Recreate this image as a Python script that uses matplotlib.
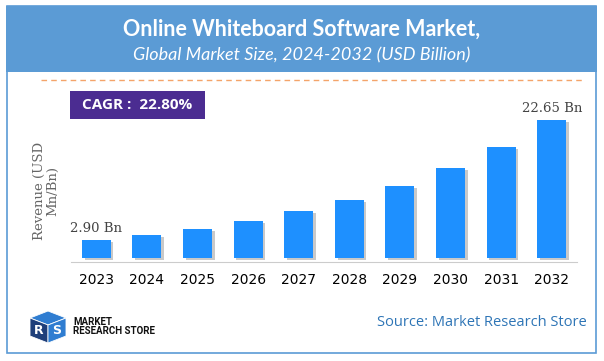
import matplotlib
matplotlib.use("Agg")
import matplotlib.pyplot as plt
import matplotlib.patheffects as pe
from matplotlib.patches import Rectangle, Polygon
import numpy as np

# data
years = ["2023", "2024", "2025", "2026", "2027", "2028", "2029", "2030", "2031", "2032"]
revenue = [2.90, 3.72, 4.71, 6.02, 7.66, 9.52, 11.8, 14.8, 18.3, 22.65]
label_first = "2.90 Bn"
label_last = "22.65 Bn"
cagr_text = "CAGR :  22.80%"
title = "Online Whiteboard Software Market,"
subtitle = "Global Market Size, 2024-2032 (USD Billion)"
source = "Source: Market Research Store"

W, H = 604, 361


def fx(x):
    return x / W


def fy(y):
    return 1 - y / H


fig = plt.figure(figsize=(W / 100, H / 100), dpi=100)
fig.patch.set_facecolor("white")

# outer frame and header band
frame_col = "#5B9BD5"
fig.patches.append(Rectangle((fx(6.5), fy(352.5)), fx(595.5) - fx(6.5), fy(6) - fy(352.5),
                             transform=fig.transFigure, fill=False, ec=frame_col, lw=1.2))
fig.patches.append(Rectangle((fx(6), fy(72)), fx(597) - fx(6), fy(6) - fy(72),
                             transform=fig.transFigure, fc=frame_col, ec="none"))
fig.text(0.5, fy(29), title, color="white", fontsize=15.5, fontweight="bold",
         family="Lato", ha="center", va="center")
fig.text(0.5, fy(55), subtitle, color="white", fontsize=13, style="italic",
         family="Lato", ha="center", va="center")

# orange dashed separator
fig.lines.append(plt.Line2D([fx(41), fx(582)], [fy(80), fy(80)], transform=fig.transFigure,
                            color="#F4A46A", lw=1, ls=(0, (4, 3))))

# CAGR box
fig.patches.append(Rectangle((fx(70), fy(119)), fx(205) - fx(70), fy(91) - fy(119),
                             transform=fig.transFigure, fc="#4B2C91", ec="none"))
fig.text(fx(137.5), fy(105), cagr_text, color="white", fontsize=11, fontweight="bold",
         family="Open Sans", ha="center", va="center")

# bar chart
base_px, left_px, right_px, top_px = 262.3, 71, 577, 100
px_per_unit = 6.09
y0 = -4.34 / px_per_unit
y1 = y0 + (base_px - top_px) / px_per_unit
ax = fig.add_axes([fx(left_px), fy(base_px), fx(right_px) - fx(left_px), fy(top_px) - fy(base_px)])
x = np.arange(len(years))
bars = ax.bar(x, revenue, width=0.57, color="#1E90FF", bottom=0)
for b in bars:
    b.set_path_effects([pe.SimplePatchShadow(offset=(2, -1.5), shadow_rgbFace="#666666", alpha=0.35),
                        pe.Normal()])
ax.set_xlim(-0.5, len(years) - 0.5)
ax.set_ylim(y0, y1)
ax.set_xticks(x)
ax.set_xticklabels(years, fontsize=9.5, color="#666666", family="DejaVu Sans")
ax.tick_params(axis="x", length=0, pad=8)
ax.set_yticks([])
for s in ["top", "right", "left"]:
    ax.spines[s].set_visible(False)
ax.spines["bottom"].set_color("#CCCCCC")
ax.spines["bottom"].set_position(("data", y0))
ax.patch.set_alpha(0)

ax.text(x[0], revenue[0] + 0.9, label_first, ha="center", va="bottom", fontsize=9.5,
        color="#444444", family="DejaVu Serif")
ax.text(x[-1], revenue[-1] + 0.9, label_last, ha="center", va="bottom", fontsize=9.5,
        color="#444444", family="DejaVu Serif")

fig.text(fx(46), fy(191), "Revenue (USD\nMn/Bn)", rotation=90, ha="center", va="center",
         fontsize=9.5, color="#666666", family="DejaVu Serif", linespacing=1.1)

# logo (rough cube with RS)
logo_dark = "#1F3F7A"
logo_blue = "#2F7DD1"
polys = [
    ([(30, 318), (48, 311), (66, 318), (48, 325)], logo_blue),
    ([(30, 318), (48, 325), (48, 343), (30, 336)], logo_dark),
    ([(48, 325), (66, 318), (66, 336), (48, 343)], logo_blue),
]
for pts, c in polys:
    fig.patches.append(Polygon([(fx(a), fy(b)) for a, b in pts], closed=True,
                               transform=fig.transFigure, fc=c, ec="white", lw=0.6))
fig.text(fx(39), fy(331), "R", color="white", fontsize=9, fontweight="bold", ha="center", va="center")
fig.text(fx(57), fy(330), "S", color="white", fontsize=9, fontweight="bold", ha="center", va="center")
fig.text(fx(73), fy(326.5), "MARKET\nRESEARCH STORE", color="#111111", fontsize=7, fontweight="bold",
         family="Roboto", ha="left", va="center", linespacing=0.95)

fig.text(fx(587), fy(323), source, color="#2E75B6", fontsize=10.5, family="Open Sans",
         ha="right", va="center")

fig.savefig("out.png", dpi=100)
